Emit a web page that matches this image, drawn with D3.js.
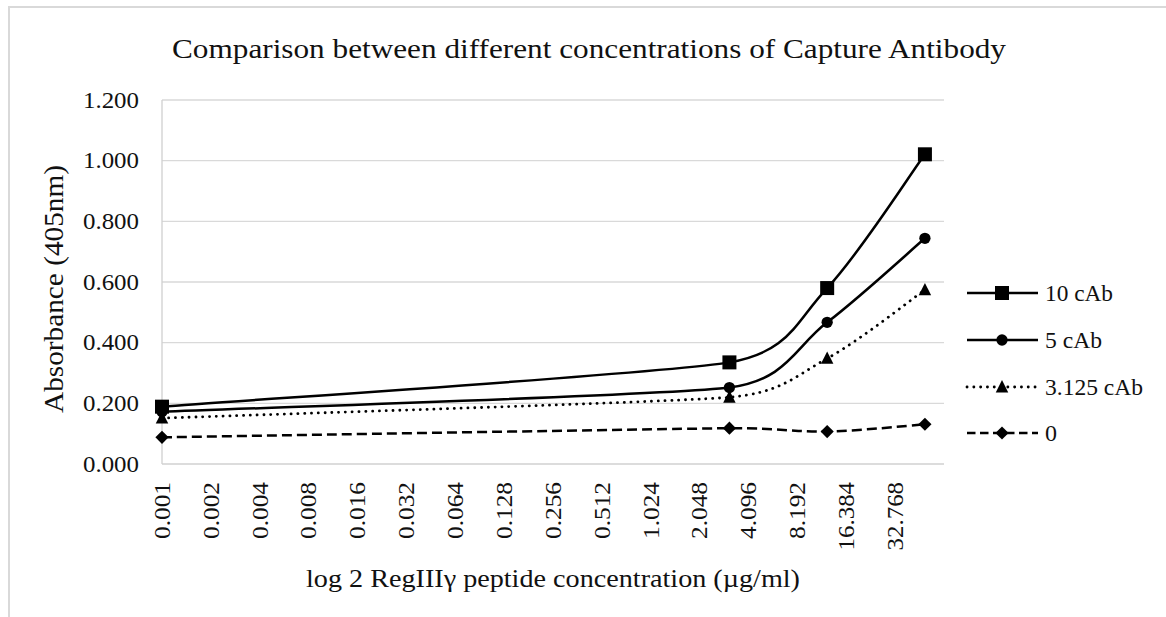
<!DOCTYPE html>
<html><head><meta charset="utf-8">
<script src="https://cdn.jsdelivr.net/npm/d3@7"></script>
<style>body{margin:0;background:#fff}svg{display:block}text{font-family:"Liberation Serif","Times New Roman",serif;fill:#111}</style>
</head><body><svg id="c" width="1166" height="617"></svg>
<script>
const xValues = [0.001, 3.125, 12.5, 50];
const seriesNames = ["10 cAb", "5 cAb", "3.125 cAb", "0"];
const values10 = [0.189, 0.335, 0.580, 1.021];
const values5 = [0.172, 0.252, 0.467, 0.744];
const values3125 = [0.151, 0.220, 0.348, 0.574];
const values0 = [0.088, 0.118, 0.107, 0.131];
const xTickLabels = ["0.001","0.002","0.004","0.008","0.016","0.032","0.064","0.128","0.256","0.512","1.024","2.048","4.096","8.192","16.384","32.768"];
const yTicks = [0, 0.2, 0.4, 0.6, 0.8, 1.0, 1.2];

const svg = d3.select("#c");
svg.append("rect").attr("width",1166).attr("height",617).attr("fill","#fff");
svg.append("rect").attr("x",9).attr("y",7).attr("width",1200).attr("height",700)
  .attr("fill","none").attr("stroke","#d9d9d9").attr("stroke-width",2);

const x = d3.scaleLog().base(2).domain([0.001, 65.536]).range([162, 944]);
const y = d3.scaleLinear().domain([0, 1.2]).range([464, 100]);

svg.append("g").selectAll("line").data(yTicks.slice(1)).join("line")
  .attr("x1",162).attr("x2",944).attr("y1",d=>y(d)).attr("y2",d=>y(d))
  .attr("stroke","#d9d9d9").attr("stroke-width",1.3);
svg.append("line").attr("x1",162).attr("x2",162).attr("y1",100).attr("y2",464).attr("stroke","#d0d0d0").attr("stroke-width",1.3);
svg.append("line").attr("x1",162).attr("x2",944).attr("y1",464).attr("y2",464).attr("stroke","#d0d0d0").attr("stroke-width",1.3);

// y tick labels
svg.append("g").selectAll("text").data(yTicks).join("text")
  .attr("x",139).attr("y",d=>y(d)).attr("dy","0.34em").attr("text-anchor","end")
  .attr("font-size",23).attr("textLength",56).attr("lengthAdjust","spacingAndGlyphs")
  .text(d=>d3.format(".3f")(d));

// x tick labels
svg.append("g").selectAll("text").data(xTickLabels).join("text")
  .attr("transform",d=>`translate(${x(+d)},482) rotate(-90)`)
  .attr("dy","0.34em").attr("text-anchor","end").attr("font-size",23)
  .attr("textLength",d=>d.length*11.4).attr("lengthAdjust","spacingAndGlyphs").text(d=>d);

// titles
svg.append("text").attr("x",589).attr("y",58).attr("text-anchor","middle").attr("font-size",28)
  .attr("textLength",834).attr("lengthAdjust","spacingAndGlyphs")
  .text("Comparison between different concentrations of Capture Antibody");
svg.append("text").attr("x",553).attr("y",587).attr("text-anchor","middle").attr("font-size",26)
  .attr("textLength",494).attr("lengthAdjust","spacingAndGlyphs")
  .text("log 2 RegIIIγ peptide concentration (µg/ml)");
svg.append("text").attr("transform","translate(63,289) rotate(-90)").attr("text-anchor","middle").attr("font-size",28)
  .attr("textLength",248).attr("lengthAdjust","spacingAndGlyphs")
  .text("Absorbance (405nm)");

const series = [
  {name:seriesNames[0], vals:values10, dash:null, cap:"butt", marker:"square", tl:68},
  {name:seriesNames[1], vals:values5, dash:null, cap:"butt", marker:"circle", tl:57},
  {name:seriesNames[2], vals:values3125, dash:"0.1 6.7", cap:"round", marker:"triangle", tl:98},
  {name:seriesNames[3], vals:values0, dash:"10 5", cap:"butt", marker:"diamond", tl:12}
];

// Excel-like smoothing: Bezier with tangents (P[i+1]-P[i-1])/6, arm limited to half of adjacent segments
function smoothPath(P) {
  const n = P.length, dist=(a,b)=>Math.hypot(b[0]-a[0],b[1]-a[1]);
  const T = P.map((p,i)=>{
    const a = P[Math.max(0,i-1)], b = P[Math.min(n-1,i+1)];
    const d = dist(a,b); if (!d) return [0,0];
    let arm = d/6;
    if (i>0) arm = Math.min(arm, dist(P[i-1],p)/2);
    if (i<n-1) arm = Math.min(arm, dist(p,P[i+1])/2);
    return [(b[0]-a[0])/d*arm, (b[1]-a[1])/d*arm];
  });
  const path = d3.path();
  path.moveTo(P[0][0],P[0][1]);
  for (let i=0;i<n-1;i++) {
    path.bezierCurveTo(P[i][0]+T[i][0], P[i][1]+T[i][1], P[i+1][0]-T[i+1][0], P[i+1][1]-T[i+1][1], P[i+1][0], P[i+1][1]);
  }
  return path.toString();
}

function drawMarker(g, type, cx, cy, s) {
  if (type==="square") g.append("rect").attr("x",cx-s/2).attr("y",cy-s/2).attr("width",s).attr("height",s).attr("fill","#000");
  else if (type==="circle") g.append("circle").attr("cx",cx).attr("cy",cy).attr("r",s*0.47).attr("fill","#000");
  else if (type==="triangle") g.append("path").attr("d",`M${cx},${cy-s*0.58}L${cx+s*0.52},${cy+s*0.45}L${cx-s*0.52},${cy+s*0.45}Z`).attr("fill","#000");
  else g.append("path").attr("d",`M${cx},${cy-s*0.55}L${cx+s*0.55},${cy}L${cx},${cy+s*0.55}L${cx-s*0.55},${cy}Z`).attr("fill","#000");
}

const plot = svg.append("g");
series.forEach(s=>{
  const pts = xValues.map((xv,i)=>[x(xv), y(s.vals[i])]);
  const p = plot.append("path").attr("d",smoothPath(pts)).attr("fill","none").attr("stroke","#000")
    .attr("stroke-width", s.marker==="triangle"?2.8:2.5).attr("stroke-linecap",s.cap);
  if (s.dash) p.attr("stroke-dasharray",s.dash);
  pts.forEach(pt=>drawMarker(plot, s.marker, pt[0], pt[1], s.marker==="square"?14:12));
});

// legend
const legRows = [293, 340, 387, 433];
series.forEach((s,i)=>{
  const g = svg.append("g");
  const ly = legRows[i];
  const l = g.append("line").attr("x1",967).attr("x2",1038).attr("y1",ly).attr("y2",ly)
    .attr("stroke","#000").attr("stroke-width", s.marker==="triangle"?2.8:2.5).attr("stroke-linecap",s.cap);
  if (s.dash) l.attr("stroke-dasharray", s.marker==="triangle" ? "0.1 6.7" : "8.5 4.5");
  drawMarker(g, s.marker, 1002, ly, s.marker==="square"?14:(s.marker==="circle"?12:12));
  g.append("text").attr("x",1045).attr("y",ly).attr("dy","0.34em").attr("font-size",24)
    .attr("textLength",s.tl).attr("lengthAdjust","spacingAndGlyphs").text(s.name);
});
</script></body></html>
